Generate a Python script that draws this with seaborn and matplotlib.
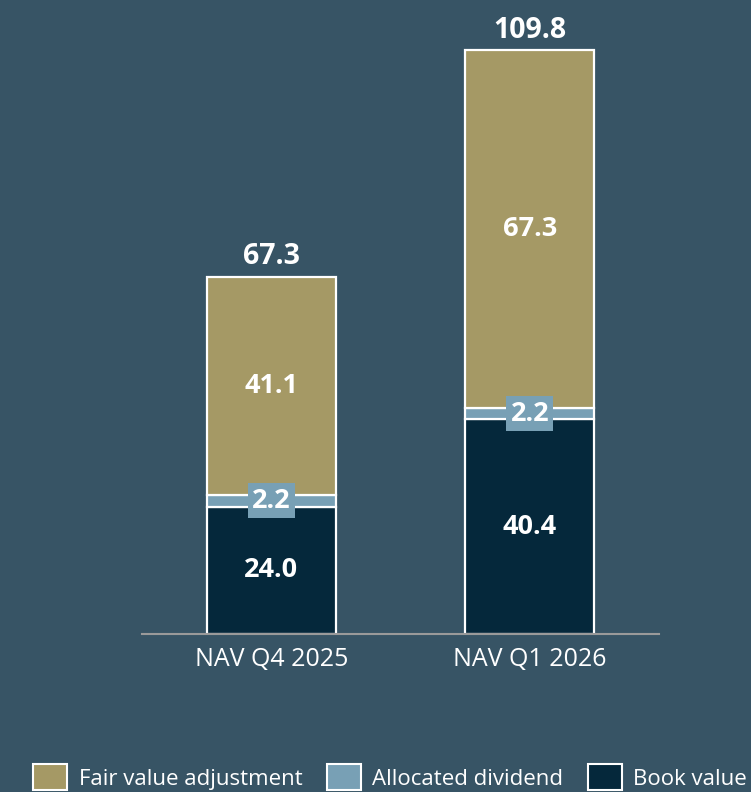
import matplotlib
matplotlib.use("Agg")
import matplotlib.pyplot as plt
from matplotlib.patches import Patch
import seaborn as sns
import pandas as pd

# NAV components (EUR m)
periods = ["NAV Q4 2025", "NAV Q1 2026"]
book_value = [24.0, 40.4]
allocated_dividend = [2.2, 2.2]
fair_value_adjustment = [41.1, 67.3]
totals = [67.3, 109.8]

series_names = ["Fair value adjustment", "Allocated dividend", "Book value"]
colors = {"Fair value adjustment": "#a59965",
          "Allocated dividend": "#78a0b5",
          "Book value": "#05283b"}
bg = "#375465"

sns.set_theme(style="white")
plt.rcParams["font.family"] = ["Open Sans", "DejaVu Sans"]

fig = plt.figure(figsize=(7.51, 7.92), dpi=100, facecolor=bg)
ax = fig.add_axes([142 / 751, 1 - 634 / 792, 517 / 751, 614 / 792])
ax.set_facecolor(bg)

df = pd.DataFrame({"period": periods, "book": book_value,
                   "div": allocated_dividend, "fva": fair_value_adjustment})
df["div_bottom"] = df["book"]
df["fva_bottom"] = df["book"] + df["div"]

common = dict(x="period", width=0.5, edgecolor="white", linewidth=1.6, ax=ax,
              saturation=1, order=periods)
sns.barplot(data=df, y="book", color=colors["Book value"], **common)
sns.barplot(data=df, y="div", bottom=df["div_bottom"],
            color=colors["Allocated dividend"], **common)
sns.barplot(data=df, y="fva", bottom=df["fva_bottom"],
            color=colors["Fair value adjustment"], **common)

ax.set_xlim(-0.5, 1.5)
ax.set_ylim(0, 614 / 5.31)

label_kw = dict(ha="center", va="center", color="white", fontsize=19.5,
                fontweight="bold")
for i in range(len(periods)):
    b, d, f = book_value[i], allocated_dividend[i], fair_value_adjustment[i]
    ax.text(i, b / 2, f"{b:.1f}", **label_kw)
    ax.text(i, b + d / 2, f"{d:.1f}", **label_kw,
            bbox=dict(boxstyle="square,pad=0.16", fc=colors["Allocated dividend"],
                      ec="none"))
    ax.text(i, b + d + f / 2, f"{f:.1f}", **label_kw)
    ax.text(i, totals[i] + 2.4, f"{totals[i]:.1f}", ha="center", va="baseline",
            color="white", fontsize=20.5, fontweight="bold")

sns.despine(ax=ax, left=True, top=True, right=True)
ax.spines["bottom"].set_color("#9a9a9a")
ax.spines["bottom"].set_linewidth(1.5)
ax.set_yticks([])
ax.set_xlabel("")
ax.set_ylabel("")
ax.tick_params(axis="x", length=0, pad=9, labelsize=18, labelcolor="white")

handles = [Patch(facecolor=colors[n], edgecolor="white", linewidth=1.5, label=n)
           for n in series_names]
leg = fig.legend(handles=handles, loc="upper center", ncol=3,
                 bbox_to_anchor=(390 / 751, 1 - 764 / 792), frameon=False,
                 fontsize=16, borderpad=0, borderaxespad=0,
                 handlelength=1.55, handleheight=1.45, handletextpad=0.5,
                 columnspacing=1.1, labelcolor="white")

fig.savefig("out.png", dpi=100, facecolor=bg)
